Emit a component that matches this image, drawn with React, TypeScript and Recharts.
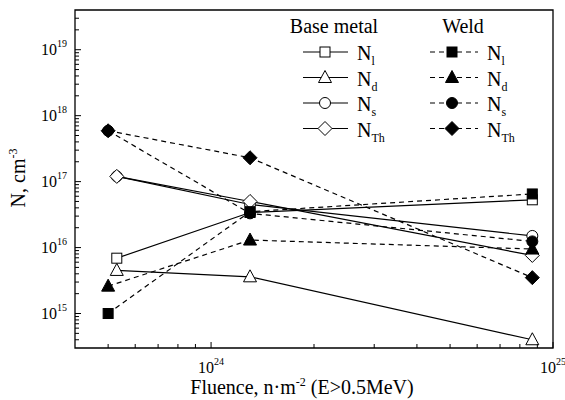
import React from 'react';
import { LineChart, Line, XAxis, YAxis, ReferenceArea, Legend } from 'recharts';

// fluence, n/m^2 (E > 0.5 MeV)
const fluenceBase = [5.3e23, 1.3e24, 8.7e24];
const fluenceWeld = [5.0e23, 1.3e24, 8.7e24];

// concentrations, cm^-3
const baseNl = [6.9e15, 3.4e16, 5.3e16];
const baseNd = [4.5e15, 3.6e15, 4.0e14];
const baseNs = [1.2e17, 4.5e16, 1.5e16];
const baseNTh = [1.2e17, 5.0e16, 7.6e15];
const weldNl = [1.0e15, 3.5e16, 6.5e16];
const weldNd = [2.6e15, 1.3e16, 9.5e15];
const weldNs = [5.9e17, 3.3e16, 1.24e16];
const weldNTh = [5.9e17, 2.3e17, 3.5e15];

const xDomain = [4e23, 1e25];
const yDomain = [3e14, 4e19];
const xMajorTicks = [1e24, 1e25];
const yMajorTicks = [1e15, 1e16, 1e17, 1e18, 1e19];
const minorSteps = [2, 3, 4, 5, 6, 7, 8, 9];

const FONT = '"Liberation Serif", "Times New Roman", Times, serif';

const minorTicks = (decades: number[], domain: number[]) =>
  decades
    .flatMap((d) => minorSteps.map((m) => m * d))
    .filter((v) => v > domain[0] * 1.01 && v < domain[1] * 0.99);

const xTicks = [...xMajorTicks, ...minorTicks([1e23, 1e24], xDomain)].sort((a, b) => a - b);
const yTicks = [...yMajorTicks, ...minorTicks([1e14, 1e15, 1e16, 1e17, 1e18, 1e19], yDomain)].sort((a, b) => a - b);

const toPoints = (xs: number[], ys: number[]) => xs.map((x, i) => ({ x, y: ys[i] }));

type Shape = 'square' | 'triangle' | 'circle' | 'diamond';

const series = [
  { id: 'bNl', sub: 'l', shape: 'square' as Shape, filled: false, data: toPoints(fluenceBase, baseNl) },
  { id: 'bNd', sub: 'd', shape: 'triangle' as Shape, filled: false, data: toPoints(fluenceBase, baseNd) },
  { id: 'bNs', sub: 's', shape: 'circle' as Shape, filled: false, data: toPoints(fluenceBase, baseNs) },
  { id: 'bNTh', sub: 'Th', shape: 'diamond' as Shape, filled: false, data: toPoints(fluenceBase, baseNTh) },
  { id: 'wNl', sub: 'l', shape: 'square' as Shape, filled: true, data: toPoints(fluenceWeld, weldNl) },
  { id: 'wNd', sub: 'd', shape: 'triangle' as Shape, filled: true, data: toPoints(fluenceWeld, weldNd) },
  { id: 'wNs', sub: 's', shape: 'circle' as Shape, filled: true, data: toPoints(fluenceWeld, weldNs) },
  { id: 'wNTh', sub: 'Th', shape: 'diamond' as Shape, filled: true, data: toPoints(fluenceWeld, weldNTh) },
];

const DASH = '5 4';

function Marker({ cx, cy, shape, filled }: { cx: number; cy: number; shape: Shape; filled: boolean }) {
  const fill = filled ? '#000' : '#fff';
  const common = { fill, stroke: '#000', strokeWidth: 1 };
  if (shape === 'square') return <rect x={cx - 5} y={cy - 5} width={10} height={10} {...common} />;
  if (shape === 'circle') return <circle cx={cx} cy={cy} r={5.5} {...common} />;
  if (shape === 'triangle')
    return <polygon points={`${cx},${cy - 7} ${cx - 6.5},${cy + 5} ${cx + 6.5},${cy + 5}`} {...common} />;
  return <polygon points={`${cx},${cy - 7} ${cx + 7},${cy} ${cx},${cy + 7} ${cx - 7},${cy}`} {...common} />;
}

function XTick({ x, y, payload }: any) {
  const v = payload.value;
  const major = xMajorTicks.includes(v);
  return (
    <g>
      <line x1={x} y1={y} x2={x} y2={y - (major ? 6 : 4)} stroke="#000" />
      {major && (
        <text x={x} y={y + 25} textAnchor="middle" fontSize={16} fontFamily={FONT} fill="#000">
          10<tspan dy={-8} fontSize={10}>{Math.round(Math.log10(v))}</tspan>
        </text>
      )}
    </g>
  );
}

function YTick({ x, y, payload }: any) {
  const v = payload.value;
  const major = yMajorTicks.includes(v);
  return (
    <g>
      <line x1={x} y1={y} x2={x + (major ? 6 : 4)} y2={y} stroke="#000" />
      {major && (
        <text x={x - 8} y={y + 5} textAnchor="end" fontSize={16} fontFamily={FONT} fill="#000">
          10<tspan dy={-8} fontSize={10}>{Math.round(Math.log10(v))}</tspan>
        </text>
      )}
    </g>
  );
}

function XTitle({ viewBox }: any) {
  const cx = viewBox.x + viewBox.width / 2 - 12;
  return (
    <text x={cx} y={viewBox.y + 46} textAnchor="middle" fontSize={20} fontFamily={FONT} fill="#000">
      Fluence, n·m<tspan dy={-8} fontSize={12}>-2</tspan>
      <tspan dy={8}> (E&gt;0.5MeV)</tspan>
    </text>
  );
}

function YTitle() {
  return (
    <text
      x={25}
      y={178}
      textAnchor="middle"
      fontSize={20}
      fontFamily={FONT}
      fill="#000"
      transform="rotate(-90, 25, 178)"
    >
      N, cm<tspan dy={-8} fontSize={12}>-3</tspan>
    </text>
  );
}

const LEG_X = 280;
const LEG_Y = 5;

function LegendBox() {
  const rows = [47, 72.5, 98, 123.5];
  const columns = [
    { title: 'Base metal', titleX: 54, x1: 23, x2: 68, mx: 45, tx: 77, filled: false },
    { title: 'Weld', titleX: 183, x1: 150, x2: 198, mx: 172, tx: 207, filled: true },
  ];
  return (
    <svg width={280} height={140} style={{ display: 'block', overflow: 'visible' }}>
      {columns.map((c) => (
        <g key={c.title}>
          <text x={c.titleX} y={28} textAnchor="middle" fontSize={20} fontFamily={FONT} fill="#000">
            {c.title}
          </text>
          {series
            .filter((s) => s.filled === c.filled)
            .map((s, i) => (
              <g key={s.id}>
                <line
                  x1={c.x1}
                  y1={rows[i]}
                  x2={c.x2}
                  y2={rows[i]}
                  stroke="#000"
                  strokeWidth={1.2}
                  strokeDasharray={c.filled ? DASH : undefined}
                />
                <Marker cx={c.mx} cy={rows[i]} shape={s.shape} filled={s.filled} />
                <text x={c.tx} y={rows[i] + 8} fontSize={20} fontFamily={FONT} fill="#000">
                  N<tspan dy={5} fontSize={12}>{s.sub}</tspan>
                </text>
              </g>
            ))}
        </g>
      ))}
    </svg>
  );
}

export default function App() {
  return (
    <div style={{ position: 'absolute', left: 0, top: 0, fontFamily: FONT, background: '#fff' }}>
      <LineChart width={565} height={400} margin={{ top: 10, right: 12, left: 0, bottom: 0 }} style={{ fontFamily: FONT }}>
        <XAxis
          dataKey="x"
          type="number"
          scale="log"
          domain={xDomain}
          ticks={xTicks}
          interval={0}
          allowDataOverflow
          height={52}
          axisLine={false}
          tickLine={false}
          tickSize={0}
          tickMargin={0}
          tick={(p: any) => <XTick {...p} />}
          label={{ content: (p: any) => <XTitle {...p} /> }}
        />
        <YAxis
          type="number"
          scale="log"
          domain={yDomain}
          ticks={yTicks}
          interval={0}
          allowDataOverflow
          width={75}
          axisLine={false}
          tickLine={false}
          tickSize={0}
          tickMargin={0}
          tick={(p: any) => <YTick {...p} />}
          label={{ content: () => <YTitle /> }}
        />
        <ReferenceArea
          x1={xDomain[0]}
          x2={xDomain[1]}
          y1={yDomain[0]}
          y2={yDomain[1]}
          fill="none"
          fillOpacity={0}
          stroke="#000"
          strokeWidth={1.3}
        />
        {series.map((s) => (
          <Line
            key={s.id}
            data={s.data}
            dataKey="y"
            type="linear"
            stroke="#000"
            strokeWidth={1.2}
            strokeDasharray={s.filled ? DASH : undefined}
            isAnimationActive={false}
            activeDot={false}
            dot={(p: any) => (
              <Marker key={`${s.id}-${p.index}`} cx={p.cx} cy={p.cy} shape={s.shape} filled={s.filled} />
            )}
          />
        ))}
        <Legend
          layout="vertical"
          verticalAlign="middle"
          align="center"
          wrapperStyle={{ left: LEG_X, top: LEG_Y, width: 280, height: 140 }}
          content={() => <LegendBox />}
        />
      </LineChart>
    </div>
  );
}
